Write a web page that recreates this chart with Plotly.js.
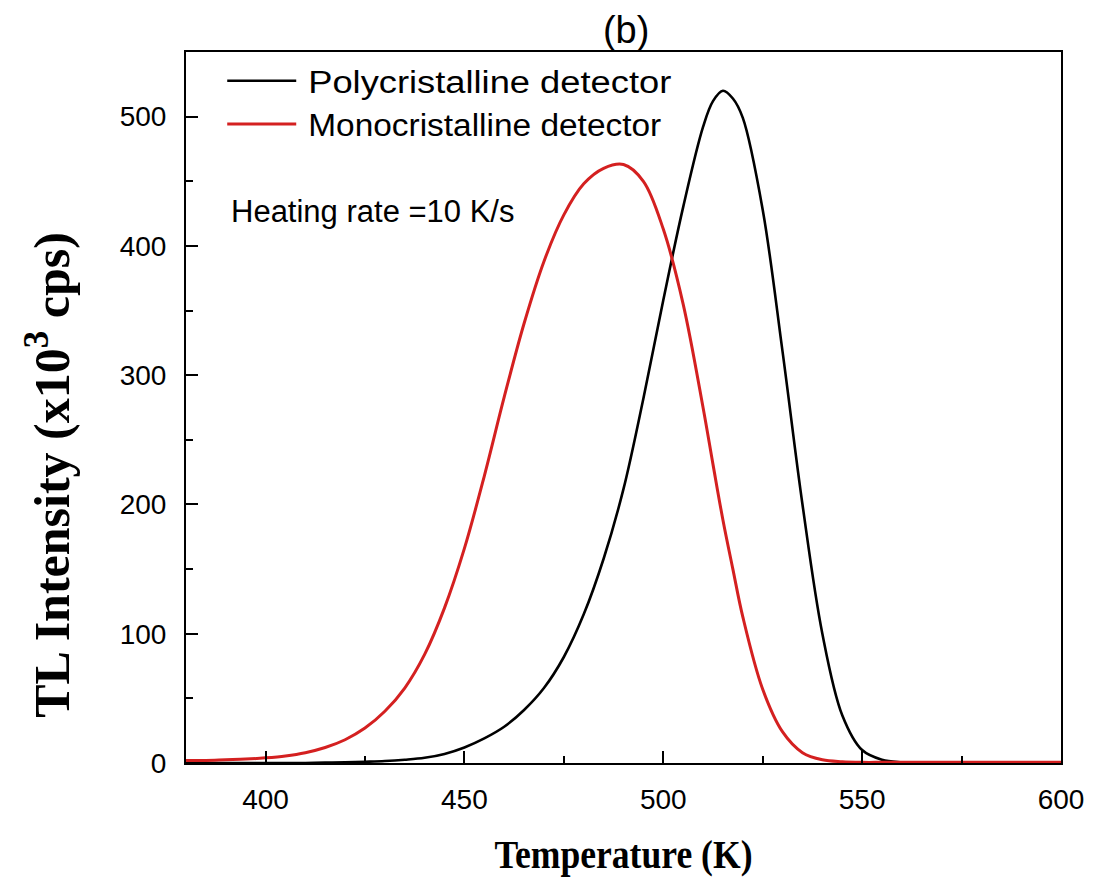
<!DOCTYPE html>
<html>
<head>
<meta charset="utf-8">
<script src="https://cdn.plot.ly/plotly-3.0.1.min.js"></script>
<style>html,body{margin:0;padding:0;background:#fff;}</style>
</head>
<body>
<div id="chart" style="width:1117px;height:878px;"></div>
<script>
const temperature = [380,385,390,395,400,405,410,415,420,425,430,435,440,445,450,455,460,465,470,475,480,485,490,495,500,505,510,512.5,515,517.5,520,525,530,535,540,545,550,555,560,565,570,575,580,585,590,595,600];
const polycristalline = [0,0,0,0,0,0,0,0.3,0.6,1,1.5,2.5,4,7,12,19,28,41,58,82,115,158,212,282,358,430,492,512,520,514,499,428,318,200,100,37,10,2.5,0.5,0,0,0,0,0,0,0,0];
const monocristalline = [2,2,2.5,3,4,5.5,8,12,18,27,40,58,84,120,166,222,283,340,388,424,448,460,463,450,413,355,275,231,188,150,113,57,24,8,2.5,1,0.5,0.5,0.5,0.5,0.5,0.5,0.5,0.5,0.5,0.5,0.5];
const seriesNames = ['Polycristalline detector','Monocristalline detector'];
const xTicks = [400,450,500,550,600];
const yTicks = [0,100,200,300,400,500];

const traces = [
  {x: temperature, y: polycristalline, name: seriesNames[0], type: 'scatter', mode: 'lines',
   line: {color: '#000000', width: 2.6, shape: 'spline', smoothing: 1}},
  {x: temperature, y: monocristalline, name: seriesNames[1], type: 'scatter', mode: 'lines',
   line: {color: '#d42020', width: 3, shape: 'spline', smoothing: 1}}
];

const axisCommon = {
  showline: true, mirror: true, linecolor: '#000', linewidth: 2,
  ticks: 'inside', ticklen: 12, tickwidth: 2, tickcolor: '#000',
  showgrid: false, zeroline: false,
  tickfont: {family: 'Liberation Sans, Arial, sans-serif', size: 28, color: '#000'}
};

const layout = {
  width: 1117, height: 878,
  paper_bgcolor: '#fff', plot_bgcolor: '#fff',
  margin: {l: 186, r: 56, t: 52, b: 115},
  showlegend: true,
  title: {text: '(b)', font: {family: 'Liberation Sans, Arial, sans-serif', size: 38, color: '#000'},
          xref: 'paper', x: 0.503, xanchor: 'center', yref: 'container', y: 0.966, yanchor: 'middle'},
  xaxis: Object.assign({}, axisCommon, {
    range: [380, 600], tickvals: xTicks, ticktext: xTicks.map(String),
    minor: {ticks: 'inside', ticklen: 7, tickwidth: 2, tickcolor: '#000', dtick: 25, tick0: 375},
    ticklabelstandoff: 10,
    title: {text: 'Temperature (K)', standoff: 26,
            font: {family: 'Liberation Serif, Times New Roman, serif', size: 40, color: '#000', weight: 'bold'}}
  }),
  yaxis: Object.assign({}, axisCommon, {
    range: [0, 550], tickvals: yTicks, ticktext: yTicks.map(String),
    minor: {ticks: 'inside', ticklen: 7, tickwidth: 2, tickcolor: '#000', dtick: 50, tick0: 0},
    ticklabelstandoff: 12
  }),
  legend: {x: 0.0414, y: 0.997, xanchor: 'left', yanchor: 'top', bgcolor: 'rgba(0,0,0,0)',
           borderwidth: 0, itemwidth: 76, tracegroupgap: 0,
           font: {family: 'Liberation Sans, Arial, sans-serif', size: 31, color: '#000'}},
  annotations: [
    {text: 'Heating rate =10 K/s', xref: 'paper', yref: 'paper', x: 0.049, y: 0.775,
     xanchor: 'left', yanchor: 'middle', showarrow: false,
     font: {family: 'Liberation Sans, Arial, sans-serif', size: 31, color: '#000'}},
    {text: 'TL Intensity (x10<sup>3</sup> cps)', xref: 'paper', yref: 'paper', x: -0.158, y: 0.405,
     xanchor: 'center', yanchor: 'middle', textangle: -90, showarrow: false,
     font: {family: 'Liberation Serif, Times New Roman, serif', size: 50, color: '#000', weight: 'bold'}}
  ]
};

Plotly.newPlot('chart', traces, layout, {displayModeBar: false, staticPlot: true}).then(function () {
  document.querySelectorAll('.legend .legendlines path').forEach(function (p) {
    p.setAttribute('d', 'M5,0h69');
  });
  document.querySelectorAll('.legend [clip-path]').forEach(function (el) {
    el.removeAttribute('clip-path');
  });
  const widths = [363, 353];
  document.querySelectorAll('.legend .legendtext').forEach(function (t, i) {
    t.setAttribute('textLength', widths[i] || 360);
    t.setAttribute('lengthAdjust', 'spacingAndGlyphs');
  });
  const xt = document.querySelector('.xtitle');
  if (xt) { xt.setAttribute('textLength', 258); xt.setAttribute('lengthAdjust', 'spacingAndGlyphs'); }
});
</script>
</body>
</html>
